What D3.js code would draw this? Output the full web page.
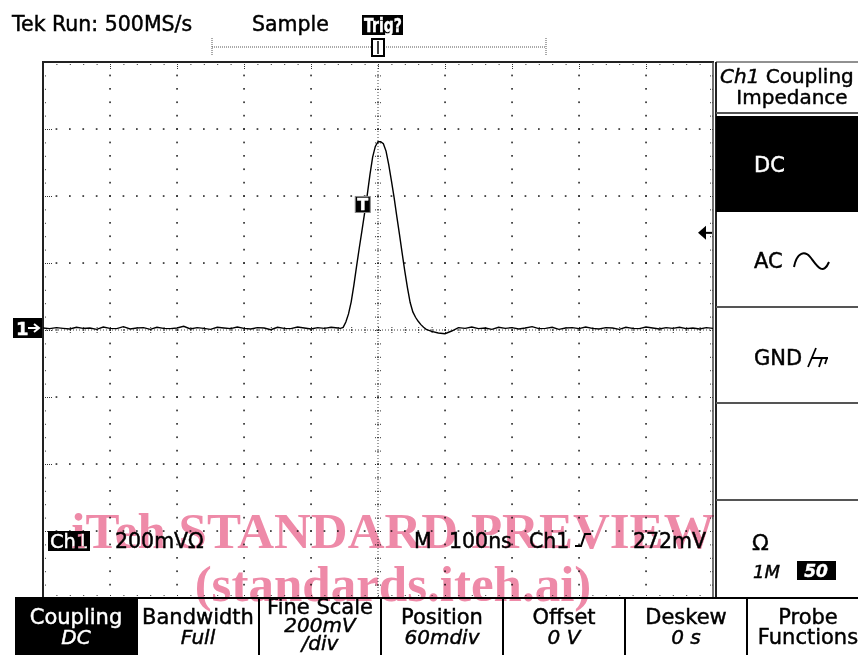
<!DOCTYPE html>
<meta charset="utf-8">
<script src="https://d3js.org/d3.v7.min.js"></script>
<style>
  body { margin: 0; background: #fff; }
  text { font-family: "DejaVu Sans", sans-serif; }
</style>
<div id="scope"></div>
<script>

  // trace samples: time (ns) across the 10 div screen, volts in mV
  var times = [0,10,20,30,40,50,60,70,80,90,100,110,120,130,140,150,160,170,180,190,
    200,210,220,230,240,250,260,270,280,290,300,310,320,330,340,350,360,370,380,390,
    400,410,420,430,440,
    444,448,452,456,460,464,468,472,476,480,484,488,492,496,500,504,508,512,516,520,
    524,528,532,536,540,544,548,552,556,560,564,568,572,576,580,
    590,600,610,620,630,640,650,660,670,680,690,700,710,720,730,740,750,760,770,780,
    790,800,810,820,830,840,850,860,870,880,890,900,910,920,930,940,950,960,970,980,990,1000];
  var volts = [6,4,7,5,3,8,5,6,2,9,5,4,10,3,6,7,2,8,5,4,
    6,11,3,7,5,2,8,6,4,9,5,3,7,6,1,8,5,4,9,6,
    3,7,5,8,6,
    5,8,24,48,84,134,190,244,296,349,404,464,516,548,562,562,556,534,494,446,
    396,340,286,230,176,126,82,54,38,26,16,8,2,-1,-4,
    -9,-11,-3,7,5,9,4,6,2,8,5,7,3,6,10,4,5,8,2,6,
    7,4,9,5,3,7,6,2,8,5,4,9,6,3,7,5,8,4,6,3,7,5];

  var timeDomain = [0, 1000];      // 100 ns/div
  var voltDomain = [-800, 800];    // 200 mV/div
  var trigLevel = 290;             // trigger arrow position, mV
  var trigPoint = [478, 318];      // "T" marker on the rising edge

  var bottomMenu = [
    { top: "Coupling", lines: ["DC"], sel: true },
    { top: "Bandwidth", lines: ["Full"] },
    { top: "Fine Scale", lines: ["200mV", "/div"] },
    { top: "Position", lines: ["60mdiv"] },
    { top: "Offset", lines: ["0 V"] },
    { top: "Deskew", lines: ["0 s"] },
    { top: "Probe", lines: ["Functions"], plain: true }
  ];

  var W = 858, H = 655;
  var svg = d3.select("#scope").append("svg")
    .attr("width", W).attr("height", H);

  var x = d3.scaleLinear().domain(timeDomain).range([43, 713]);
  var y = d3.scaleLinear().domain(voltDomain).range([598, 62]);

  // ---------- header ----------
  svg.append("text").attr("x", 12).attr("y", 31).attr("font-size", 20.5).text("Tek Run: 500MS/s");
  svg.append("text").attr("x", 252).attr("y", 31).attr("font-size", 20.5).text("Sample");
  svg.append("rect").attr("x", 362).attr("y", 15).attr("width", 41).attr("height", 20).attr("fill", "#000");
  svg.append("text").attr("x", 364).attr("y", 32).attr("font-size", 19).attr("font-weight", "bold")
    .attr("fill", "#fff").attr("textLength", 38).attr("lengthAdjust", "spacingAndGlyphs").text("Trig?");

  // record length bar
  svg.append("line").attr("x1", 212).attr("x2", 546).attr("y1", 47).attr("y2", 47)
    .attr("stroke", "#555").attr("stroke-dasharray", "1,1");
  [212, 546].forEach(function (xx) {
    svg.append("line").attr("x1", xx).attr("x2", xx).attr("y1", 38).attr("y2", 56)
      .attr("stroke", "#555").attr("stroke-dasharray", "1,1");
  });
  svg.append("rect").attr("x", 372).attr("y", 39).attr("width", 12).attr("height", 17)
    .attr("fill", "#fff").attr("stroke", "#000").attr("stroke-width", 2);
  svg.append("line").attr("x1", 378).attr("x2", 378).attr("y1", 41).attr("y2", 54).attr("stroke", "#000").attr("stroke-width", 1.5);

  // ---------- graticule ----------
  var g = svg.append("g");
  var majorT = d3.range(100, 1000, 100);
  var majorV = d3.range(-600, 800, 200);
  var minorT = d3.range(20, 1000, 20);
  var minorV = d3.range(-760, 800, 40);

  // dotted major lines
  majorT.filter(function (t) { return t !== 500; }).forEach(function (t) {
    g.selectAll(null).data(minorV).enter().append("rect")
      .attr("x", x(t) - 0.8).attr("y", function (v) { return y(v) - 0.8; })
      .attr("width", 1.7).attr("height", 1.7).attr("fill", "#333");
  });
  majorV.filter(function (v) { return v !== 0; }).forEach(function (v) {
    g.selectAll(null).data(minorT).enter().append("rect")
      .attr("x", function (t) { return x(t) - 0.8; }).attr("y", y(v) - 0.8)
      .attr("width", 1.7).attr("height", 1.7).attr("fill", "#333");
  });

  // center cross with fine ticks
  g.append("line").attr("x1", x(500)).attr("x2", x(500)).attr("y1", y(800)).attr("y2", y(-800))
    .attr("stroke", "#444").attr("stroke-dasharray", "1,2");
  g.append("line").attr("x1", x(0)).attr("x2", x(1000)).attr("y1", y(0)).attr("y2", y(0))
    .attr("stroke", "#444").attr("stroke-dasharray", "1,2");

  function bare(sel) {
    sel.select(".domain").remove();
    sel.selectAll("text").remove();
    sel.selectAll("line").attr("stroke", "#333");
  }
  [d3.axisLeft, d3.axisRight].forEach(function (ax) {
    g.append("g").attr("transform", "translate(" + x(500) + ",0)")
      .call(ax(y).tickValues(minorV).tickSize(3)).call(bare);
  });
  [d3.axisTop, d3.axisBottom].forEach(function (ax) {
    g.append("g").attr("transform", "translate(0," + y(0) + ")")
      .call(ax(x).tickValues(minorT).tickSize(3)).call(bare);
  });

  // edge ticks pointing inward
  g.append("g").attr("transform", "translate(0," + y(800) + ")")
    .call(d3.axisBottom(x).tickValues(minorT).tickSize(4)).call(bare);
  g.append("g").attr("transform", "translate(0," + y(-800) + ")")
    .call(d3.axisTop(x).tickValues(minorT).tickSize(4)).call(bare);
  g.append("g").attr("transform", "translate(" + x(0) + ",0)")
    .call(d3.axisRight(y).tickValues(minorV).tickSize(4)).call(bare);
  g.append("g").attr("transform", "translate(" + x(1000) + ",0)")
    .call(d3.axisLeft(y).tickValues(minorV).tickSize(4)).call(bare);
  g.append("g").attr("transform", "translate(0," + y(800) + ")")
    .call(d3.axisBottom(x).tickValues(majorT).tickSize(8)).call(bare);
  g.append("g").attr("transform", "translate(" + x(0) + ",0)")
    .call(d3.axisRight(y).tickValues(majorV).tickSize(9)).call(bare);
  g.selectAll(".tick line").attr("stroke-dasharray", "1,1");

  // frame
  g.append("line").attr("x1", 43).attr("x2", 43).attr("y1", 61).attr("y2", 598).attr("stroke", "#222").attr("stroke-width", 2);
  g.append("line").attr("x1", 42).attr("x2", 714).attr("y1", 62).attr("y2", 62).attr("stroke", "#222").attr("stroke-width", 2);
  g.append("line").attr("x1", 713).attr("x2", 713).attr("y1", 62).attr("y2", 598).attr("stroke", "#444").attr("stroke-width", 1.5);

  // ---------- trace ----------
  var data = times.map(function (t, i) { return [t, volts[i]]; });
  svg.append("path").datum(data)
    .attr("fill", "none").attr("stroke", "#000").attr("stroke-width", 1.4)
    .attr("d", d3.line().x(function (d) { return x(d[0]); }).y(function (d) { return y(d[1]); }));

  // trigger point marker
  svg.append("rect").attr("x", x(trigPoint[0]) - 8).attr("y", y(trigPoint[1]) - 27)
    .attr("width", 15).attr("height", 16).attr("fill", "#000").attr("stroke", "#888");
  svg.append("text").attr("x", x(trigPoint[0]) - 0.5).attr("y", y(trigPoint[1]) - 13)
    .attr("text-anchor", "middle").attr("font-size", 16).attr("font-weight", "bold")
    .attr("fill", "#fff").text("T");

  // ground marker
  svg.append("rect").attr("x", 13).attr("y", y(0) - 12).attr("width", 29).attr("height", 20).attr("fill", "#000");
  svg.append("text").attr("x", 16).attr("y", y(0) + 5).attr("font-size", 18).attr("font-weight", "bold")
    .attr("fill", "#fff").text("1");
  svg.append("path").attr("d", "M28," + (y(0) - 2) + "H38M34," + (y(0) - 6) + "L39," + (y(0) - 2) + "L34," + (y(0) + 2))
    .attr("stroke", "#fff").attr("stroke-width", 2).attr("fill", "none");

  // trigger level arrow
  var ty = y(trigLevel);
  svg.append("path").attr("d", "M698," + ty + "L706," + (ty - 7) + "V" + (ty + 7) + "Z").attr("fill", "#000");
  svg.append("line").attr("x1", 705).attr("x2", 712).attr("y1", ty).attr("y2", ty).attr("stroke", "#000").attr("stroke-width", 2);

  // readouts
  svg.append("rect").attr("x", 48).attr("y", 531).attr("width", 42).attr("height", 20).attr("fill", "#000");
  svg.append("text").attr("x", 50).attr("y", 548).attr("font-size", 19.5).attr("fill", "#fff").text("Ch1");
  svg.append("text").attr("x", 115).attr("y", 548).attr("font-size", 20.5).text("200mV\u03A9");
  svg.append("text").attr("x", 414).attr("y", 548).attr("font-size", 20.5).text("M");
  svg.append("text").attr("x", 449).attr("y", 548).attr("font-size", 20.5).text("100ns");
  svg.append("text").attr("x", 529).attr("y", 548).attr("font-size", 20.5).text("Ch1");
  svg.append("path").attr("d", "M575,546H581L585,534H591").attr("stroke", "#000").attr("stroke-width", 2).attr("fill", "none");
  svg.append("text").attr("x", 706).attr("y", 548).attr("font-size", 20.5).attr("text-anchor", "end").text("272mV");

  // ---------- side menu ----------
  var side = svg.append("g");
  side.append("line").attr("x1", 716).attr("x2", 716).attr("y1", 62).attr("y2", 598).attr("stroke", "#222").attr("stroke-width", 2);
  side.append("line").attr("x1", 716).attr("x2", 858).attr("y1", 62).attr("y2", 62).attr("stroke", "#222").attr("stroke-width", 1);
  side.append("text").attr("x", 720).attr("y", 83).attr("font-size", 20)
    .html('<tspan font-style="italic">Ch1</tspan> Coupling');
  side.append("text").attr("x", 792).attr("y", 104).attr("font-size", 20).attr("text-anchor", "middle").text("Impedance");
  [113, 307, 403, 500].forEach(function (yy) {
    side.append("line").attr("x1", 716).attr("x2", 858).attr("y1", yy).attr("y2", yy).attr("stroke", "#555").attr("stroke-width", 2);
  });
  side.append("rect").attr("x", 716).attr("y", 116).attr("width", 142).attr("height", 96).attr("fill", "#000");
  side.append("text").attr("x", 754).attr("y", 172).attr("font-size", 21).attr("fill", "#fff").text("DC");
  side.append("text").attr("x", 754).attr("y", 268).attr("font-size", 21).text("AC");
  side.append("path").attr("d", "M794,267C797,252 805,250 811,258S823,276 829,262")
    .attr("stroke", "#000").attr("stroke-width", 2).attr("fill", "none");
  side.append("text").attr("x", 754).attr("y", 365).attr("font-size", 21).text("GND");
  side.append("path").attr("d", "M812,358H828M816,348L808,367M822,358L819,367M827,358L825,364")
    .attr("stroke", "#000").attr("stroke-width", 1.8).attr("fill", "none");
  side.append("text").attr("x", 752).attr("y", 550).attr("font-size", 22).text("\u03A9");
  side.append("text").attr("x", 753).attr("y", 578).attr("font-size", 18).attr("font-style", "italic").text("1M");
  side.append("rect").attr("x", 797).attr("y", 561).attr("width", 39).attr("height", 19).attr("fill", "#000");
  side.append("text").attr("x", 816).attr("y", 577).attr("font-size", 17).attr("font-style", "italic")
    .attr("font-weight", "bold").attr("fill", "#fff").attr("text-anchor", "middle").text("50");

  // ---------- bottom menu ----------
  var bx = d3.scaleBand().domain(d3.range(bottomMenu.length)).range([15, 869]);
  var bm = svg.append("g");
  bm.append("line").attr("x1", 15).attr("x2", 858).attr("y1", 598).attr("y2", 598).attr("stroke", "#000").attr("stroke-width", 2);
  var cell = bm.selectAll("g.cell").data(bottomMenu).enter().append("g").attr("class", "cell")
    .attr("transform", function (d, i) { return "translate(" + bx(i) + ",0)"; });
  cell.filter(function (d) { return d.sel; }).append("rect")
    .attr("x", 0).attr("y", 598).attr("width", bx.bandwidth()).attr("height", 57).attr("fill", "#000");
  cell.filter(function (d, i) { return i > 0; }).append("line")
    .attr("x1", 0).attr("x2", 0).attr("y1", 598).attr("y2", 655).attr("stroke", "#000").attr("stroke-width", 2);
  cell.append("text").attr("x", bx.bandwidth() / 2)
    .attr("y", function (d) { return d.lines.length > 1 ? 614 : 624; })
    .attr("text-anchor", "middle").attr("font-size", 21)
    .attr("fill", function (d) { return d.sel ? "#fff" : "#000"; })
    .text(function (d) { return d.top; });
  cell.each(function (d) {
    var c = d3.select(this);
    d.lines.forEach(function (s, k) {
      c.append("text").attr("x", bx.bandwidth() / 2)
        .attr("y", d.lines.length > 1 ? 632 + k * 18 : 644)
        .attr("text-anchor", "middle").attr("font-size", d.plain ? 21 : 20)
        .attr("font-style", d.plain ? "normal" : "italic")
        .attr("fill", d.sel ? "#fff" : "#000").text(s);
    });
  });

  // slightly heavier strokes, like the scope's bitmap font
  svg.selectAll("text").each(function () {
    var t = d3.select(this);
    t.attr("stroke", t.attr("fill") || "#000").attr("stroke-width", 0.45);
  });

  // ---------- watermark ----------
  var wm = svg.append("g").style("mix-blend-mode", "multiply")
    .attr("fill", "#ee8aa8").attr("font-weight", "bold").attr("text-anchor", "middle");
  wm.append("text").attr("x", 393).attr("y", 548).attr("font-size", 51)
    .style("font-family", "'Liberation Serif', serif").text("iTeh STANDARD PREVIEW");
  wm.append("text").attr("x", 393).attr("y", 601).attr("font-size", 51)
    .style("font-family", "'Liberation Serif', serif").text("(standards.iteh.ai)");

</script>
